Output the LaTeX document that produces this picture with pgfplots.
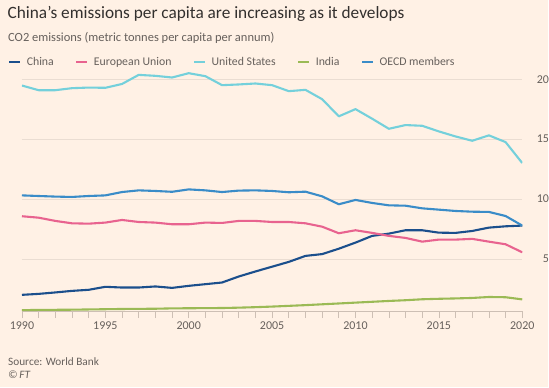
\documentclass[border=0pt]{standalone}
\usepackage{fontspec}
\setmainfont{Carlito}
\usepackage{pgfplots}
\usepackage{pgfplotstable}
\pgfplotsset{compat=1.18}
\definecolor{bg}{HTML}{FFF1E5}
\definecolor{titlec}{HTML}{33302E}
\definecolor{subc}{HTML}{66605C}
\definecolor{gridc}{HTML}{EADDD2}
\definecolor{axisc}{HTML}{CDBFB4}
\definecolor{chinac}{HTML}{1B4F8C}
\definecolor{euc}{HTML}{E8638F}
\definecolor{usc}{HTML}{74D0DB}
\definecolor{indiac}{HTML}{9BBA55}
\definecolor{oecdc}{HTML}{3A8CC8}

\pgfplotstableread{
year china eu us india oecd
1990 2.00 8.56 19.47 0.72 10.30
1991 2.08 8.44 19.08 0.74 10.25
1992 2.20 8.17 19.08 0.75 10.20
1993 2.33 7.97 19.25 0.76 10.17
1994 2.42 7.94 19.30 0.78 10.25
1995 2.67 8.03 19.28 0.80 10.30
1996 2.61 8.25 19.60 0.82 10.58
1997 2.61 8.08 20.36 0.83 10.72
1998 2.70 8.03 20.28 0.84 10.67
1999 2.58 7.89 20.14 0.87 10.60
2000 2.75 7.89 20.50 0.88 10.80
2001 2.89 8.03 20.25 0.89 10.72
2002 3.03 8.00 19.50 0.90 10.58
2003 3.53 8.17 19.56 0.93 10.70
2004 3.95 8.17 19.64 0.97 10.72
2005 4.35 8.08 19.50 1.02 10.67
2006 4.75 8.08 19.00 1.08 10.56
2007 5.25 7.97 19.11 1.14 10.61
2008 5.40 7.69 18.33 1.21 10.22
2009 5.85 7.14 16.90 1.28 9.56
2010 6.36 7.39 17.50 1.35 9.92
2011 6.92 7.17 16.70 1.42 9.67
2012 7.11 6.92 15.86 1.49 9.47
2013 7.39 6.75 16.17 1.55 9.44
2014 7.39 6.44 16.11 1.63 9.22
2015 7.19 6.61 15.64 1.67 9.11
2016 7.17 6.61 15.22 1.70 9.00
2017 7.33 6.67 14.86 1.74 8.94
2018 7.61 6.44 15.31 1.82 8.92
2019 7.72 6.22 14.75 1.80 8.58
2020 7.78 5.55 13.00 1.62 7.78
}\datatable

\begin{document}
\begin{tikzpicture}[x=1pt,y=1pt]
\fill[bg] (0,0) rectangle (549,388);
\node[anchor=base west, inner sep=0, text=titlec, font=\fontsize{17.3}{20}\selectfont] at (7.5,369.5) {China's emissions per capita are increasing as it develops};
\node[anchor=base west, inner sep=0, text=subc, font=\fontsize{12.5}{15}\selectfont] at (8,346) {CO2 emissions (metric tonnes per capita per annum)};
\node[anchor=base west, inner sep=0, text=subc, font=\fontsize{11.3}{13}\selectfont] at (8,22) {Source: World Bank};
\node[anchor=base west, inner sep=0, text=subc, font=\fontsize{11.3}{13}\selectfont\itshape] at (8,9) {\textcopyright\,FT};
\begin{axis}[
  at={(22pt,76.3pt)}, anchor=south west,
  scale only axis, width=501pt, height=240.8pt,
  xmin=1990, xmax=2020, ymin=0.63, ymax=20.7,
  axis x line*=bottom, axis y line*=right,
  y axis line style={draw=none},
  x axis line style={color=axisc, line width=0.6pt},
  xtick={1990,1995,...,2020},
  minor xtick={1990,...,2020},
  tick align=outside,
  major tick length=7pt, minor tick length=7pt,
  xtick style={color=axisc, line width=0.6pt},
  ytick={5,10,15,20},
  ytick style={draw=none},
  ymajorgrids, grid style={color=gridc, line width=0.6pt},
  /pgf/number format/1000 sep={},
  /pgf/number format/assume math mode=true,
  xticklabel style={text=subc, font=\fontsize{12}{14}\selectfont, anchor=north, inner sep=0pt, yshift=-3.5pt},
  yticklabel style={text=subc, font=\fontsize{12}{14}\selectfont, anchor=east, inner sep=0pt, xshift=20pt},
  legend columns=5,
  legend cell align=left,
  legend style={at={(axis description cs:-0.028,1.037)}, anchor=west, draw=none, fill=none, inner sep=0pt,
    font=\fontsize{11.8}{13}\selectfont, text=subc,
    nodes={inner xsep=3.5pt},
    /tikz/every odd column/.append style={column sep=2pt},
    /tikz/every even column/.append style={column sep=18pt}},
  legend image code/.code={\draw[#1, line width=2.2pt] (0pt,0pt) -- (11pt,0pt);},
  every axis plot/.append style={line width=2.1pt, line join=round},
]
\addplot[chinac] table[x=year, y=china] {\datatable};
\addlegendentry{China}
\addplot[euc] table[x=year, y=eu] {\datatable};
\addlegendentry{European Union}
\addplot[usc] table[x=year, y=us] {\datatable};
\addlegendentry{United States}
\addplot[indiac] table[x=year, y=india] {\datatable};
\addlegendentry{India}
\addplot[oecdc] table[x=year, y=oecd] {\datatable};
\addlegendentry{OECD members}
\end{axis}
\end{tikzpicture}
\end{document}
